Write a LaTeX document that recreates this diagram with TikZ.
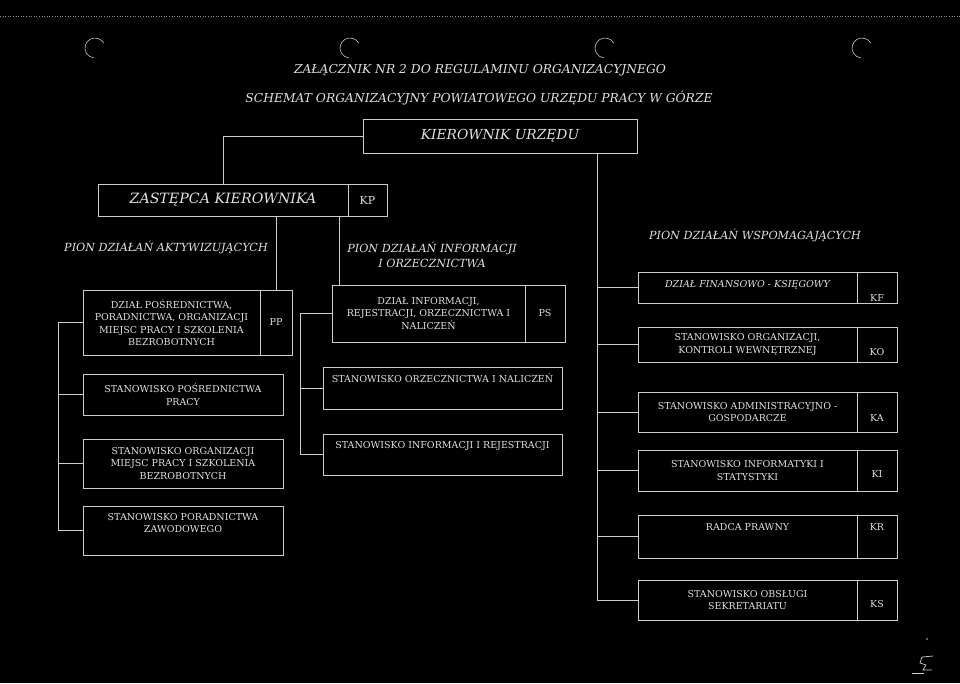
\documentclass[tikz,border=0pt]{standalone}
\usepackage{fontspec}
\setmainfont{DejaVu Serif}
\usetikzlibrary{positioning}

\definecolor{kreska}{gray}{0.80}
\definecolor{napis}{gray}{0.88}

\begin{document}
\begin{tikzpicture}[x=1pt,y=-1pt,
    box/.style={
        rectangle, draw=kreska, line width=0.7pt,
        text=napis, align=center, inner sep=1pt,
        font=\fontsize{9.5}{12.5}\selectfont
    },
    cell/.style={box, minimum width=40pt},
    codetxt/.style={text=napis, inner sep=0pt, font=\fontsize{9.5}{10}\selectfont},
    titl/.style={text=napis, inner sep=0pt, font=\itshape\fontsize{12.3}{14}\selectfont},
    pion/.style={text=napis, inner sep=0pt, align=center, font=\itshape\fontsize{11.2}{15.5}\selectfont},
    link/.style={draw=kreska, line width=0.7pt},
]

% Tlo i ramka
\fill[black] (0,0) rectangle (960,683);
\useasboundingbox (0,0) rectangle (960,683);

% Krawedz skanu i dziurki
\draw[kreska!70!black, line width=0.6pt, dotted] (0,16) -- (960,16);
\foreach \hx in {95,350,605,862}
    \draw[kreska, line width=0.6pt] (\hx,48) ++(-30:10)
        arc[start angle=-30, end angle=-265, radius=10];

% Naglowek
\node[titl] (zal)   at (480,70) {ZAŁĄCZNIK NR 2 DO REGULAMINU ORGANIZACYJNEGO};
\node[titl] (schem) at (479,98) {SCHEMAT ORGANIZACYJNY POWIATOWEGO URZĘDU PRACY W GÓRZE};

%% Kierownictwo
\node[box, minimum width=274pt, minimum height=34pt,
      font=\itshape\fontsize{13.8}{15}\selectfont] (kier) at (500,136) {KIEROWNIK URZĘDU};
\node[box, minimum width=250pt, minimum height=32pt,
      font=\itshape\fontsize{14.2}{15}\selectfont] (zast) at (223,200) {ZASTĘPCA KIEROWNIKA};
\node[cell, minimum width=39pt, minimum height=32pt,
      font=\fontsize{11}{13}\selectfont] (kpc) at (367.5,200) {KP};

%% Piony
\node[pion] (pionakt) at (166,247) {PION DZIAŁAŃ AKTYWIZUJĄCYCH};
\node[pion] (pioninf) at (432,255) {PION DZIAŁAŃ INFORMACJI\\I ORZECZNICTWA};
\node[pion] (pionwsp) at (755,235) {PION DZIAŁAŃ WSPOMAGAJĄCYCH};

%% Pion aktywizujacy
\node[box, minimum width=177pt, minimum height=65pt] (dzpos) at (171.5,322.5)
    {DZIAŁ POŚREDNICTWA,\\PORADNICTWA, ORGANIZACJI\\MIEJSC PRACY I SZKOLENIA\\BEZROBOTNYCH};
\node[cell, minimum width=32pt, minimum height=65pt] (ppc) at (276,322.5) {PP};
\node[box, minimum width=200pt, minimum height=41pt] (stpos) at (183,394.5)
    {STANOWISKO POŚREDNICTWA\\PRACY};
\node[box, minimum width=200pt, minimum height=49pt] (storg) at (183,463.5)
    {STANOWISKO ORGANIZACJI\\MIEJSC PRACY I SZKOLENIA\\BEZROBOTNYCH};
\node[box, minimum width=200pt, minimum height=49pt] (stpor) at (183,530.5)
    {STANOWISKO PORADNICTWA\\ZAWODOWEGO\\[3pt]\mbox{}};

%% Pion informacji i orzecznictwa
\node[box, minimum width=193pt, minimum height=57pt] (dzinf) at (428.5,313.5)
    {DZIAŁ INFORMACJI,\\REJESTRACJI, ORZECZNICTWA I\\NALICZEŃ};
\node[cell, minimum width=40pt, minimum height=57pt] (psc) at (545,313.5) {PS};
\node[box, minimum width=239pt, minimum height=42pt] (storz) at (442.5,388)
    {STANOWISKO ORZECZNICTWA I NALICZEŃ\\[8pt]\mbox{}};
\node[box, minimum width=239pt, minimum height=41pt] (stinf) at (442.5,454.5)
    {STANOWISKO INFORMACJI I REJESTRACJI\\[7pt]\mbox{}};

%% Pion wspomagajacy
\node[box, minimum width=219pt, minimum height=31pt,
      font=\itshape\fontsize{9.5}{10}\selectfont] (dzfin) at (747.5,287.5)
    {DZIAŁ FINANSOWO - KSIĘGOWY\\[-2pt]\mbox{}};
\node[cell, minimum height=31pt] (kfc) at (877,287.5) {};
\node[box, minimum width=219pt, minimum height=35pt] (stkon) at (747.5,344.5)
    {STANOWISKO ORGANIZACJI,\\KONTROLI WEWNĘTRZNEJ};
\node[cell, minimum height=35pt] (koc) at (877,344.5) {};
\node[box, minimum width=219pt, minimum height=40pt] (stadm) at (747.5,412)
    {STANOWISKO ADMINISTRACYJNO -\\GOSPODARCZE};
\node[cell, minimum height=40pt] (kac) at (877,412) {};
\node[box, minimum width=219pt, minimum height=41pt] (stit) at (747.5,470.5)
    {STANOWISKO INFORMATYKI I\\STATYSTYKI};
\node[cell, minimum height=41pt] (kic) at (877,470.5) {};
\node[box, minimum width=219pt, minimum height=43pt] (radca) at (747.5,536.5)
    {RADCA PRAWNY\\[7pt]\mbox{}};
\node[cell, minimum height=43pt] (krc) at (877,536.5) {};
\node[box, minimum width=219pt, minimum height=40pt] (stsek) at (747.5,600)
    {STANOWISKO OBSŁUGI\\SEKRETARIATU};
\node[cell, minimum height=40pt] (ksc) at (877,600) {};

% Symbole komorek
\node[codetxt] (kf) at (877,298) {KF};
\node[codetxt] (ko) at (877,352) {KO};
\node[codetxt] (ka) at (877,418) {KA};
\node[codetxt] (ki) at (877,474) {KI};
\node[codetxt] (kr) at (877,527) {KR};
\node[codetxt] (ks) at (877,604) {KS};

%% Polaczenia
\coordinate (ltr) at (58,0);
\coordinate (mtr) at (300,0);
\coordinate (rtr) at (597,0);
\coordinate (inftop) at ([xshift=8pt]dzinf.north west);

\draw[link] (kier.west) -| (zast.north);
\draw[link] (ppc.north |- zast.south) -- (ppc.north);
\draw[link] (inftop |- zast.south) -- (inftop);

\draw[link] (dzpos.west) -- (dzpos.west -| ltr) -- (stpor.west -| ltr) -- (stpor.west);
\foreach \n in {stpos,storg}
    \draw[link] (\n.west -| ltr) -- (\n.west);

\draw[link] (dzinf.west) -- (dzinf.west -| mtr) -- (stinf.west -| mtr) -- (stinf.west);
\draw[link] (storz.west -| mtr) -- (storz.west);

\draw[link] (kier.south -| rtr) -- (stsek.west -| rtr) -- (stsek.west);
\foreach \n in {dzfin,stkon,stadm,stit,radca}
    \draw[link] (\n.west -| rtr) -- (\n.west);

% Parafka
\fill[kreska] (927,639) circle (0.9);
\draw[kreska, line width=0.7pt] (933,656) -- (922,657) -- (920,663) -- (926,665)
    -- (923,670) -- (932,670);
\draw[kreska, line width=0.7pt] (912,673) -- (924,673);

\end{tikzpicture}
\end{document}
